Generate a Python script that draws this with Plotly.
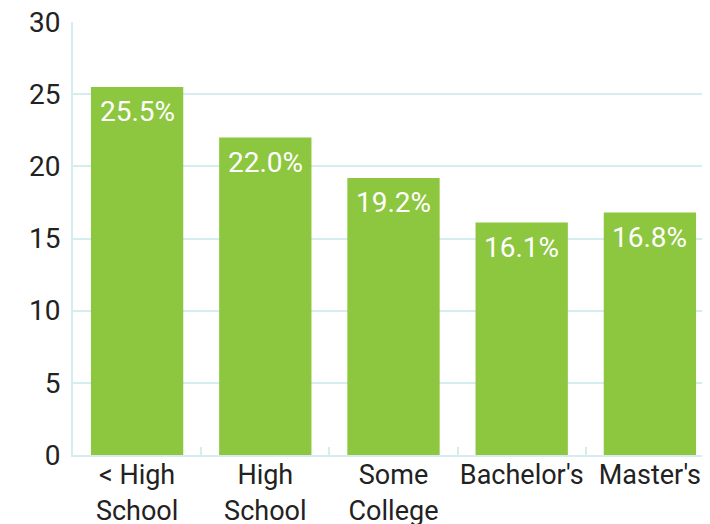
import plotly.graph_objects as go

categories = ["< High<br>School", "High<br>School", "Some<br>College", "Bachelor's", "Master's"]
values = [25.5, 22.0, 19.2, 16.1, 16.8]
labels = ["25.5%", "22.0%", "19.2%", "16.1%", "16.8%"]
y_ticks = [0, 5, 10, 15, 20, 25, 30]

GRID = "#d5ecf0"
GREEN = "#8dc63f"

fig = go.Figure(go.Bar(
    x=categories, y=values,
    marker=dict(color=GREEN, line=dict(width=0)),
    hoverinfo="x+y",
))

for c, v, t in zip(categories, values, labels):
    fig.add_annotation(
        x=c, y=v, text=t, showarrow=False,
        yanchor="middle", yshift=-25,
        font=dict(color="white", size=28, family="Roboto"),
    )

fig.update_layout(
    width=710, height=524,
    margin=dict(l=65, r=4, t=14, b=77, autoexpand=False),
    plot_bgcolor="white", paper_bgcolor="white",
    bargap=0.28,
    font=dict(family="Roboto", size=27, color="#222222"),
    showlegend=False,
)
fig.update_xaxes(
    range=[-0.5, 4.5], automargin=False, tickangle=0,
    ticklabeloverflow="allow", ticklabelstandoff=-5,
    showgrid=False, showline=True, linecolor=GRID, linewidth=2,
    ticks="inside", tickson="boundaries", ticklen=8, tickcolor=GRID, tickwidth=2,
    tickfont=dict(size=27, color="#222222"),
)
fig.update_yaxes(
    range=[0, 30], tickvals=y_ticks, automargin=False,
    ticklabeloverflow="allow",
    showgrid=True, gridcolor=GRID, gridwidth=2,
    showline=True, linecolor=GRID, linewidth=2,
    zeroline=False, ticks="", ticklabelstandoff=5,
    tickfont=dict(size=28, color="#222222"),
)

fig.write_html("out.html")
